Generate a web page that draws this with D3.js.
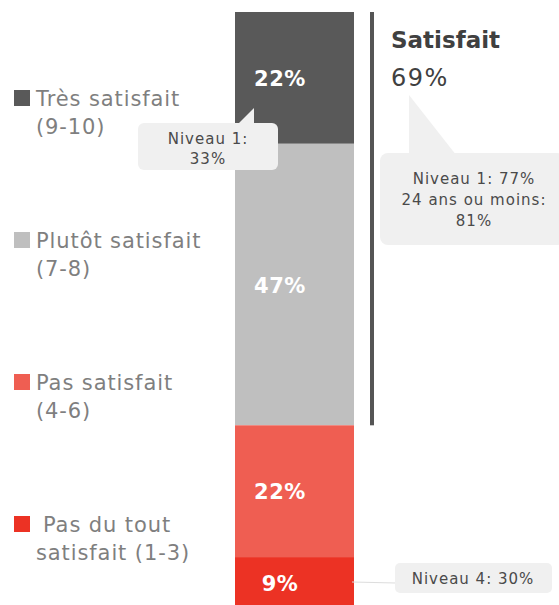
<!DOCTYPE html>
<html>
<head>
<meta charset="utf-8">
<script src="https://cdn.jsdelivr.net/npm/d3@7"></script>
<style>
  body { margin: 0; background: #fff; }
  svg text { font-family: "DejaVu Sans", sans-serif; }
</style>
</head>
<body>
<div id="chart"></div>
<script>
// data
const categories = ["Très satisfait", "Plutôt satisfait", "Pas satisfait", "Pas du tout satisfait"];
const ranges = ["(9-10)", "(7-8)", "(4-6)", "(1-3)"];
const values = [22, 47, 22, 9];
const colors = ["#595959", "#bfbfbf", "#ef5e52", "#ec3224"];
const groupLabel = ["Satisfait", "69%"];
const groupNote = ["Niveau 1: 77%", "24 ans ou moins:", "81%"];
const noteTop = ["Niveau 1:", "33%"];
const noteBottom = ["Niveau 4: 30%"];

const width = 559, height = 605;

const svg = d3.select("#chart")
  .append("svg")
  .attr("width", width)
  .attr("height", height);

const y = d3.scaleLinear().domain([0, 100]).range([12, 611]);
const x0 = 235, barW = 119;

// stack the segments
let acc = 0;
const stacked = values.map((v, i) => {
  const d = { v, i, y0: acc, y1: acc + v };
  acc += v;
  return d;
});

svg.selectAll("rect.seg")
  .data(stacked)
  .enter()
  .append("rect")
  .attr("class", "seg")
  .attr("x", x0)
  .attr("width", barW)
  .attr("y", d => y(d.y0))
  .attr("height", d => y(d.y1) - y(d.y0))
  .attr("fill", d => colors[d.i]);

svg.selectAll("text.val")
  .data(stacked)
  .enter()
  .append("text")
  .attr("class", "val")
  .attr("x", 280)
  .attr("y", d => d.i === 3 ? y(d.y0) + 34 : (y(d.y0) + y(d.y1)) / 2 + 8)
  .attr("text-anchor", "middle")
  .attr("fill", "#fff")
  .attr("font-weight", "bold")
  .attr("font-size", 21)
  .attr("letter-spacing", 0.5)
  .text(d => d.v + "%");

// bracket line for "Satisfait" (first two segments)
svg.append("rect")
  .attr("x", 370)
  .attr("width", 4)
  .attr("y", y(0))
  .attr("height", y(values[0] + values[1]) - y(0))
  .attr("fill", "#555");

// legend
const legend = svg.selectAll("g.leg")
  .data(categories)
  .enter()
  .append("g")
  .attr("class", "leg")
  .attr("transform", (d, i) => `translate(0, ${88 + i * 142})`);

legend.append("rect")
  .attr("x", 14)
  .attr("y", 2)
  .attr("width", 16)
  .attr("height", 16)
  .attr("fill", (d, i) => colors[i]);

legend.each(function (d, i) {
  const g = d3.select(this);
  const t = g.append("text")
    .attr("fill", "#7f7f7f")
    .attr("font-size", 21)
    .attr("letter-spacing", 0.9);
  if (i === 3) {
    t.append("tspan").attr("x", 43).attr("y", 18).text("Pas du tout");
    t.append("tspan").attr("x", 36).attr("y", 46).text("satisfait " + ranges[i]);
  } else {
    t.append("tspan").attr("x", 36).attr("y", 18).text(d);
    t.append("tspan").attr("x", 36).attr("y", 46).text(ranges[i]);
  }
});

// group label
svg.append("text")
  .attr("x", 391)
  .attr("y", 48)
  .attr("fill", "#404040")
  .attr("font-weight", "bold")
  .attr("font-size", 23)
  .text(groupLabel[0]);
svg.append("text")
  .attr("x", 391)
  .attr("y", 86)
  .attr("fill", "#404040")
  .attr("font-size", 24)
  .attr("letter-spacing", 1.5)
  .text(groupLabel[1]);

const calloutFill = "#f0f0f0";
const noteColor = "#4a4a4a";

// callout under "69%"
svg.append("path")
  .attr("d", "M409,95 L409,160 L460,160 Z")
  .attr("fill", calloutFill);
svg.append("rect")
  .attr("x", 380).attr("y", 153)
  .attr("width", 185).attr("height", 92)
  .attr("rx", 8)
  .attr("fill", calloutFill);
svg.append("text")
  .attr("text-anchor", "middle")
  .attr("fill", noteColor)
  .attr("font-size", 15)
  .attr("letter-spacing", 1)
  .selectAll("tspan")
  .data(groupNote)
  .enter()
  .append("tspan")
  .attr("x", 474)
  .attr("y", (d, i) => 184 + i * 21)
  .text(d => d);

// callout for "Très satisfait"
svg.append("path")
  .attr("d", "M254,108 L254,130 L232,130 Z")
  .attr("fill", calloutFill);
svg.append("rect")
  .attr("x", 138).attr("y", 123)
  .attr("width", 140).attr("height", 47)
  .attr("rx", 6)
  .attr("fill", calloutFill);
svg.append("text")
  .attr("text-anchor", "middle")
  .attr("fill", noteColor)
  .attr("font-size", 15)
  .attr("letter-spacing", 1)
  .selectAll("tspan")
  .data(noteTop)
  .enter()
  .append("tspan")
  .attr("x", 208)
  .attr("y", (d, i) => 144 + i * 20)
  .text(d => d);

// callout for "Pas du tout satisfait"
svg.append("line")
  .attr("x1", 352).attr("y1", 582)
  .attr("x2", 396).attr("y2", 583)
  .attr("stroke", "#ddd")
  .attr("stroke-width", 1);
svg.append("rect")
  .attr("x", 395).attr("y", 563)
  .attr("width", 157).attr("height", 30)
  .attr("rx", 5)
  .attr("fill", calloutFill);
svg.append("text")
  .attr("x", 473)
  .attr("y", 584)
  .attr("text-anchor", "middle")
  .attr("fill", noteColor)
  .attr("font-size", 15)
  .attr("letter-spacing", 1)
  .text(noteBottom[0]);
</script>
</body>
</html>
